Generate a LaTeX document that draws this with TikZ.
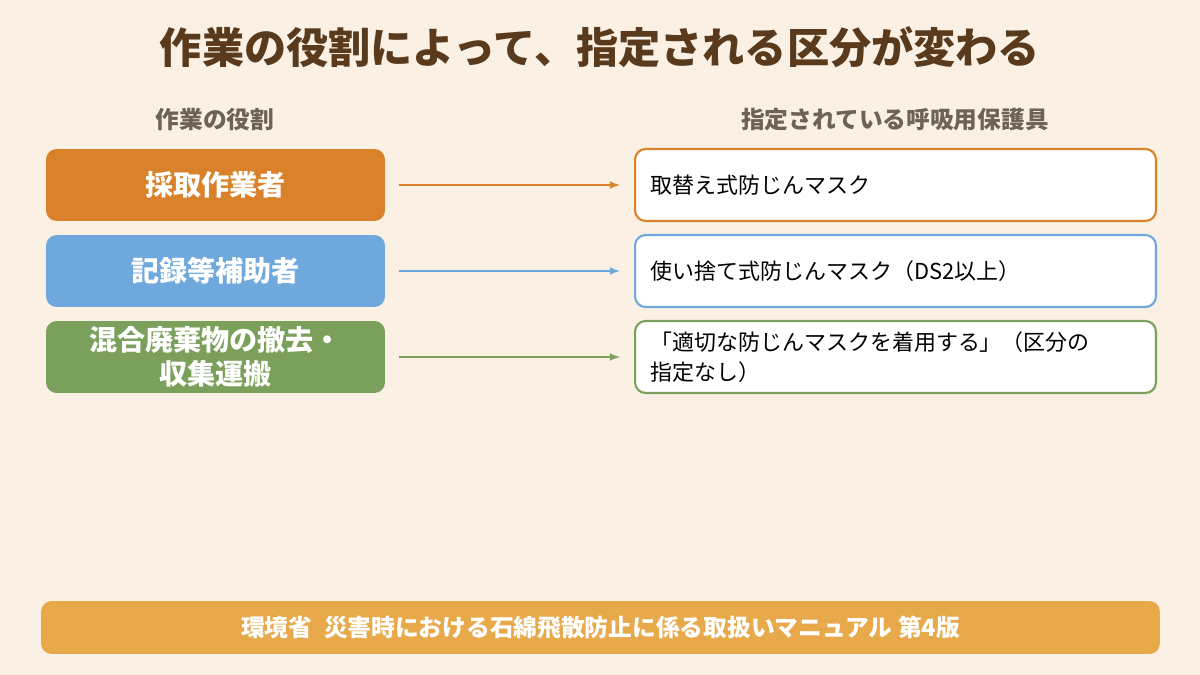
\documentclass[tikz,border=0pt]{standalone}
\usepackage{fontspec}
\setmainfont{Noto Sans CJK JP}
\usetikzlibrary{positioning}
\definecolor{bgcol}{HTML}{FAF1E4}
\definecolor{titlecol}{HTML}{5A3A1C}
\definecolor{headcol}{HTML}{6E6257}
\definecolor{orangecol}{HTML}{D9822B}
\definecolor{bluecol}{HTML}{6FA8DC}
\definecolor{greencol}{HTML}{7BA05B}
\definecolor{footcol}{HTML}{E8A94A}
\tikzset{
  >=latex,
  role/.style = {rounded corners=6pt, minimum width=6.78cm, minimum height=1.44cm,
    text=white, font=\fontsize{16}{19}\selectfont\bfseries, align=center, text width=6.4cm},
  mask/.style = {draw, line width=1.2pt, fill=white, rounded corners=6pt, minimum width=10.42cm,
    minimum height=1.44cm, text=black, font=\fontsize{12.5}{17}\selectfont, align=left,
    text width=9.8cm},
  link/.style = {->, line width=1pt}
}

\begin{document}
\begin{tikzpicture}[x=0.02cm,y=-0.02cm]
  \fill[bgcol] (0,0) rectangle (1200,675);
  \useasboundingbox (0,0) rectangle (1200,675);
  \node[text=titlecol, font=\fontsize{24}{28}\selectfont\bfseries] (title) at (600,47) {作業の役割によって、指定される区分が変わる};
  \node[text=headcol, font=\fontsize{13.5}{16}\selectfont\bfseries] (hleft) at (215,120) {作業の役割};
  \node[text=headcol, font=\fontsize{13.5}{16}\selectfont\bfseries] (hright) at (895,120) {指定されている呼吸用保護具};
  % roles
  \node[role, fill=orangecol] (r1) at (215.5,185) {採取作業者};
  \node[role, fill=bluecol] (r2) at (215.5,271) {記録等補助者};
  \node[role, fill=greencol] (r3) at (215.5,357) {混合廃棄物の撤去・\\収集運搬};
  % masks
  \node[mask, draw=orangecol] (m1) at (895.5,185) {取替え式防じんマスク};
  \node[mask, draw=bluecol] (m2) at (895.5,271) {使い捨て式防じんマスク（DS2以上）};
  \node[mask, draw=greencol] (m3) at (895.5,357) {「適切な防じんマスクを着用する」（区分の\\指定なし）};
  \draw[link, orangecol] ([xshift=8pt]r1.east) -- ([xshift=-8pt]m1.west);
  \draw[link, bluecol] ([xshift=8pt]r2.east) -- ([xshift=-8pt]m2.west);
  \draw[link, greencol] ([xshift=8pt]r3.east) -- ([xshift=-8pt]m3.west);
  % source
  \node[fill=footcol, rounded corners=6pt, minimum width=22.38cm, minimum height=1.06cm,
    text=white, font=\fontsize{13.5}{16}\selectfont\bfseries] (foot) at (600.5,627.5)
    {環境省\enspace 災害時における石綿飛散防止に係る取扱いマニュアル 第4版};
\end{tikzpicture}
\end{document}
